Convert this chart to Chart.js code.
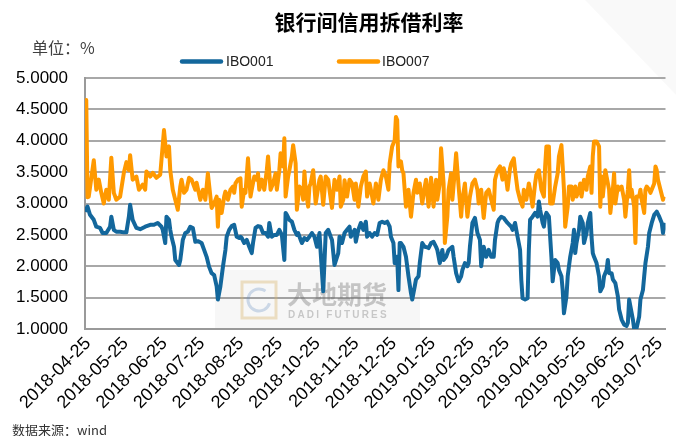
<!DOCTYPE html>
<html>
<head>
<meta charset="utf-8">
<script src="https://cdn.jsdelivr.net/npm/chart.js@4.4.0/dist/chart.umd.min.js"></script>
<style>
  html, body { margin: 0; padding: 0; background: #fff; }
  #contenedor { width: 676px; height: 436px; }
</style>
</head>
<body>
<div id="contenedor"><canvas id="idGrafica" width="676" height="436"></canvas></div>
<script>
// fecha base: los dias de cada serie se cuentan desde aqui
var fechaInicio = '2018-04-25';

var etiquetas = ['2018-04-25', '2018-05-25', '2018-06-25', '2018-07-25', '2018-08-25', '2018-09-25',
  '2018-10-25', '2018-11-25', '2018-12-25', '2019-01-25', '2019-02-25', '2019-03-25',
  '2019-04-25', '2019-05-25', '2019-06-25', '2019-07-25'];

var valoresY = [1.0, 1.5, 2.0, 2.5, 3.0, 3.5, 4.0, 4.5, 5.0];

// IBO001
var dias001 = [0, 2, 4, 7, 9, 12, 14, 17, 20, 21, 23, 25, 28, 31, 33, 35, 36, 38, 41, 44, 48, 52, 55, 58, 61, 62, 64, 65, 67, 68, 69, 71, 72, 75, 76, 78, 80, 82, 84, 86, 88, 90, 93, 95, 97, 99, 101, 103, 105, 106, 108, 110, 112, 113, 115, 117, 119, 121, 123, 124, 125, 127, 129, 131, 133, 134, 136, 138, 140, 142, 144, 146, 147, 149, 151, 153, 155, 157, 159, 160, 161, 163, 165, 167, 169, 170, 172, 173, 175, 177, 179, 181, 183, 185, 187, 188, 190, 192, 194, 196, 197, 199, 202, 203, 205, 207, 209, 211, 212, 215, 216, 218, 220, 222, 224, 225, 227, 229, 231, 233, 235, 237, 239, 241, 243, 244, 246, 247, 249, 250, 251, 252, 254, 256, 258, 260, 261, 263, 264, 266, 267, 269, 271, 273, 274, 276, 278, 280, 281, 283, 285, 286, 288, 290, 293, 294, 296, 298, 300, 301, 303, 305, 306, 307, 309, 311, 313, 315, 316, 318, 320, 322, 324, 326, 327, 329, 330, 332, 334, 335, 337, 340, 341, 343, 344, 345, 347, 348, 349, 351, 353, 354, 355, 357, 359, 361, 362, 363, 365, 366, 367, 368, 370, 371, 372, 373, 375, 377, 378, 380, 381, 382, 384, 385, 386, 387, 389, 390, 391, 392, 394, 395, 397, 398, 400, 401, 403, 404, 405, 406, 408, 410, 411, 413, 414, 416, 417, 418, 420, 421, 423, 425, 426, 428, 430, 432, 433, 434, 435, 437, 438, 440, 442, 443, 445, 446, 447, 449, 450, 452, 454, 456, 458, 460, 461, 463];
var ibo001 = [2.87, 2.95, 2.82, 2.74, 2.63, 2.61, 2.53, 2.53, 2.63, 2.79, 2.58, 2.55, 2.55, 2.54, 2.54, 2.79, 2.98, 2.74, 2.61, 2.59, 2.63, 2.66, 2.66, 2.69, 2.63, 2.58, 2.37, 2.79, 2.74, 2.58, 2.47, 2.31, 2.10, 2.02, 2.10, 2.42, 2.53, 2.55, 2.63, 2.61, 2.39, 2.40, 2.37, 2.26, 2.15, 1.99, 1.89, 1.86, 1.68, 1.47, 1.68, 1.99, 2.26, 2.47, 2.58, 2.64, 2.66, 2.47, 2.45, 2.47, 2.45, 2.37, 2.42, 2.31, 2.21, 2.37, 2.61, 2.64, 2.63, 2.53, 2.53, 2.47, 2.69, 2.47, 2.50, 2.50, 2.58, 2.50, 2.10, 2.85, 2.82, 2.74, 2.71, 2.58, 2.50, 2.53, 2.42, 2.37, 2.45, 2.42, 2.47, 2.53, 2.47, 2.31, 2.53, 2.21, 1.60, 2.53, 2.58, 2.47, 2.42, 2.02, 2.21, 2.47, 2.37, 2.53, 2.58, 2.63, 2.47, 2.58, 2.39, 2.58, 2.69, 2.58, 2.71, 2.47, 2.53, 2.47, 2.53, 2.50, 2.69, 2.71, 2.69, 2.71, 2.63, 2.47, 2.37, 2.05, 2.15, 1.62, 2.37, 2.37, 2.31, 2.15, 1.84, 1.57, 1.47, 1.68, 1.79, 1.84, 2.05, 2.37, 2.31, 2.30, 2.29, 2.37, 2.39, 2.31, 2.26, 2.05, 2.26, 2.10, 2.15, 2.26, 2.31, 2.15, 1.89, 1.76, 1.84, 1.94, 2.05, 2.00, 2.05, 2.31, 2.69, 2.77, 2.53, 2.42, 2.00, 2.31, 2.15, 2.26, 2.15, 2.15, 2.42, 2.69, 2.74, 2.79, 2.77, 2.74, 2.69, 2.63, 2.58, 2.69, 2.58, 2.47, 2.26, 1.78, 1.49, 1.47, 1.49, 2.26, 2.74, 2.79, 2.85, 2.79, 3.03, 2.90, 2.69, 2.63, 2.79, 2.85, 2.79, 2.47, 2.15, 1.76, 2.10, 2.05, 1.94, 1.84, 1.62, 1.25, 1.52, 1.84, 2.00, 2.15, 2.37, 2.58, 2.21, 2.37, 2.58, 2.79, 2.69, 2.37, 2.53, 2.69, 2.85, 2.47, 2.21, 2.15, 2.05, 1.84, 1.60, 1.68, 1.84, 1.94, 2.10, 1.89, 1.89, 1.79, 1.73, 1.52, 1.31, 1.15, 1.07, 1.05, 1.10, 1.47, 1.36, 1.15, 1.00, 1.02, 1.20, 1.47, 1.62, 1.84, 2.05, 2.31, 2.53, 2.69, 2.82, 2.87, 2.79, 2.69, 2.53, 2.69];

// IBO007
var dias007 = [0, 1, 2, 3, 7, 9, 11, 13, 15, 17, 19, 21, 23, 25, 28, 31, 33, 35, 36, 38, 41, 43, 46, 48, 49, 52, 54, 57, 60, 63, 65, 67, 68, 70, 72, 74, 76, 77, 79, 81, 83, 85, 88, 89, 92, 94, 96, 98, 100, 101, 103, 105, 106, 107, 109, 111, 112, 114, 116, 118, 119, 120, 122, 124, 125, 127, 128, 130, 132, 133, 135, 137, 138, 139, 141, 143, 145, 146, 148, 150, 152, 153, 155, 156, 158, 159, 160, 162, 163, 165, 166, 168, 169, 171, 173, 174, 175, 176, 178, 179, 180, 182, 184, 187, 188, 190, 192, 194, 195, 197, 199, 201, 203, 204, 206, 207, 209, 211, 213, 215, 216, 218, 220, 222, 224, 225, 227, 228, 230, 232, 234, 236, 238, 240, 242, 243, 245, 247, 248, 249, 250, 252, 253, 254, 256, 258, 260, 262, 264, 265, 267, 269, 271, 272, 274, 276, 278, 280, 281, 283, 284, 286, 287, 289, 290, 292, 293, 295, 296, 298, 300, 301, 303, 305, 307, 309, 311, 313, 314, 316, 318, 320, 322, 324, 326, 327, 329, 331, 333, 334, 336, 337, 339, 340, 342, 343, 345, 347, 349, 350, 352, 354, 355, 357, 359, 360, 362, 364, 366, 367, 368, 370, 371, 373, 375, 377, 378, 380, 381, 382, 383, 385, 386, 388, 389, 391, 392, 394, 395, 396, 398, 400, 401, 403, 404, 405, 406, 408, 410, 411, 412, 413, 415, 416, 418, 419, 421, 422, 423, 425, 426, 428, 430, 431, 433, 434, 435, 436, 438, 439, 440, 442, 443, 444, 446, 447, 448, 450, 451, 452, 454, 455, 456, 457, 459, 461, 462];
var ibo007 = [4.20, 4.65, 3.10, 3.11, 3.69, 3.22, 3.38, 3.17, 3.00, 3.22, 3.06, 3.73, 3.17, 3.06, 3.11, 3.49, 3.66, 3.53, 3.77, 3.38, 3.43, 3.22, 3.30, 3.22, 3.51, 3.43, 3.49, 3.41, 3.46, 4.17, 3.75, 3.91, 3.53, 3.22, 3.06, 2.90, 3.27, 3.38, 3.17, 3.22, 3.41, 3.38, 3.22, 3.33, 3.06, 3.22, 3.06, 3.48, 3.11, 2.93, 3.00, 3.11, 2.63, 3.06, 2.85, 3.11, 3.19, 3.06, 3.22, 3.27, 3.17, 3.32, 3.38, 3.40, 2.95, 3.22, 3.17, 3.72, 3.11, 3.22, 3.43, 3.38, 3.48, 3.22, 3.38, 3.22, 3.53, 3.75, 3.22, 3.32, 3.48, 3.22, 3.53, 3.80, 3.59, 4.04, 3.11, 3.43, 3.53, 3.75, 3.93, 3.64, 2.90, 3.27, 3.22, 3.06, 3.51, 3.22, 2.95, 3.27, 3.32, 3.53, 3.00, 3.38, 3.43, 2.98, 3.43, 3.38, 3.22, 2.93, 3.38, 3.22, 3.43, 2.95, 3.06, 3.37, 3.11, 3.38, 3.32, 3.06, 3.32, 2.95, 3.27, 3.43, 3.51, 3.11, 3.32, 3.22, 3.00, 3.32, 3.06, 3.38, 3.53, 3.43, 3.22, 3.64, 3.91, 4.01, 4.38, 4.33, 3.59, 3.67, 3.53, 3.48, 2.95, 3.22, 2.79, 3.17, 3.38, 3.17, 3.32, 3.00, 3.27, 3.38, 2.95, 3.41, 2.95, 3.38, 3.06, 3.32, 3.88, 3.32, 2.37, 2.79, 3.22, 3.48, 3.06, 3.53, 3.80, 3.27, 2.79, 3.06, 3.32, 2.79, 3.11, 3.32, 3.38, 3.22, 3.00, 3.22, 2.77, 3.17, 3.22, 3.06, 2.90, 3.38, 3.53, 3.59, 3.38, 3.56, 3.38, 3.22, 3.56, 3.64, 3.72, 3.53, 3.22, 3.06, 2.95, 3.22, 3.06, 3.32, 3.22, 2.95, 3.32, 3.46, 3.53, 3.22, 3.11, 3.59, 3.91, 3.91, 3.00, 3.00, 3.27, 3.48, 3.75, 3.93, 3.59, 3.22, 2.63, 2.95, 3.27, 3.27, 3.06, 3.27, 3.11, 3.22, 3.32, 3.11, 3.38, 3.22, 3.43, 3.59, 3.17, 3.75, 3.99, 3.99, 3.91, 2.95, 3.43, 3.11, 3.53, 3.43, 3.22, 2.85, 3.22, 3.48, 3.00, 3.27, 3.22, 3.27, 3.06, 2.79, 3.22, 3.53, 3.11, 3.22, 2.95, 2.37, 3.11, 3.11, 3.22, 3.06, 2.85, 3.22, 3.27, 3.22, 3.17, 3.22, 3.32, 3.59, 3.53, 3.38, 3.22, 3.06, 3.11];

var colorAzul = '#13679c';
var colorNaranja = '#ff9900';
var fuenteLatina = '"Liberation Sans", Arial, sans-serif';
var fuenteCJK = '"Noto Sans CJK SC", "Noto Sans", sans-serif';

function diasDesde(fecha) {
    return Math.round((Date.parse(fecha) - Date.parse(fechaInicio)) / 86400000);
}
var posEtiquetas = etiquetas.map(diasDesde);

function puntos(dias, valores) {
    return dias.map(function (d, i) { return { x: d, y: valores[i] }; });
}

// textos, leyenda y marca de agua dibujados a mano
var textos = {
    id: 'textos',
    beforeDraw: function (chart) {
        var ctx = chart.ctx;
        ctx.save();
        ctx.fillStyle = 'rgba(0,0,0,0.025)';
        ctx.beginPath();
        ctx.moveTo(585, 0); ctx.lineTo(676, 0); ctx.lineTo(676, 95);
        ctx.closePath();
        ctx.fill();
        ctx.restore();
    },
    beforeDatasetsDraw: function (chart) {
        var ctx = chart.ctx;
        ctx.save();
        ctx.fillStyle = 'rgba(0,0,0,0.03)';
        ctx.fillRect(215, 270, 205, 58);
        ctx.lineWidth = 3;
        ctx.strokeStyle = 'rgba(215,180,110,0.4)';
        ctx.strokeRect(242, 282, 34, 36);
        ctx.strokeStyle = 'rgba(100,140,190,0.3)';
        ctx.beginPath();
        ctx.arc(259, 300, 11, 0.3, Math.PI * 1.7);
        ctx.stroke();
        ctx.fillStyle = 'rgba(110,110,110,0.38)';
        ctx.font = 'bold 25px ' + fuenteCJK;
        ctx.textBaseline = 'middle';
        ctx.fillText('大地期货', 287, 294);
        ctx.font = 'bold 10px ' + fuenteLatina;
        ctx.fillStyle = 'rgba(110,110,110,0.35)';
        var letras = 'DADI FUTURES'.split('');
        var x = 288;
        letras.forEach(function (c) {
            ctx.fillText(c, x, 315);
            x += ctx.measureText(c).width + 2.2;
        });
        ctx.restore();
    },
    afterDraw: function (chart) {
        var ctx = chart.ctx;
        ctx.save();
        ctx.textBaseline = 'middle';
        ctx.fillStyle = '#000';
        ctx.textAlign = 'center';
        ctx.font = 'bold 21px ' + fuenteCJK;
        ctx.fillText('银行间信用拆借利率', 369, 22);

        ctx.textAlign = 'left';
        ctx.fillStyle = '#404040';
        ctx.font = '16px ' + fuenteCJK;
        ctx.fillText('单位：%', 32, 48);

        // leyenda
        ctx.lineWidth = 4.5;
        ctx.lineCap = 'round';
        ctx.strokeStyle = colorAzul;
        ctx.beginPath(); ctx.moveTo(182, 61.5); ctx.lineTo(221, 61.5); ctx.stroke();
        ctx.strokeStyle = colorNaranja;
        ctx.beginPath(); ctx.moveTo(339, 61.5); ctx.lineTo(378, 61.5); ctx.stroke();
        ctx.fillStyle = '#222';
        ctx.font = '14px ' + fuenteLatina;
        ctx.fillText('IBO001', 226, 62);
        ctx.fillText('IBO007', 382, 62);

        ctx.fillStyle = '#333';
        ctx.font = '13px ' + fuenteCJK;
        ctx.fillText('数据来源：wind', 12, 430);
        ctx.restore();
    }
};

var ctx = document.getElementById('idGrafica').getContext('2d');
var myChart = new Chart(ctx, {
    type: 'line',
    data: {
        datasets: [
            {
                label: 'IBO001',
                data: puntos(dias001, ibo001),
                borderColor: colorAzul,
                borderWidth: 4,
                pointRadius: 0,
                tension: 0,
                borderJoinStyle: 'round',
                order: 1
            },
            {
                label: 'IBO007',
                data: puntos(dias007, ibo007),
                borderColor: colorNaranja,
                borderWidth: 4,
                pointRadius: 0,
                tension: 0,
                borderJoinStyle: 'round',
                order: 0
            }
        ]
    },
    options: {
        responsive: false,
        animation: false,
        devicePixelRatio: 1,
        layout: { padding: { top: 78, left: 0, right: 0, bottom: 0 } },
        plugins: {
            legend: { display: false },
            title: { display: false },
            tooltip: { enabled: false }
        },
        scales: {
            x: {
                type: 'linear',
                min: 0,
                max: 463,
                afterBuildTicks: function (scale) {
                    scale.ticks = posEtiquetas.map(function (v) { return { value: v }; });
                },
                afterFit: function (scale) { scale.height = 107; },
                ticks: {
                    autoSkip: false,
                    minRotation: 45,
                    maxRotation: 45,
                    padding: 4,
                    labelOffset: 3,
                    color: '#000',
                    font: { size: 18, family: fuenteLatina },
                    callback: function (v) { return etiquetas[posEtiquetas.indexOf(v)]; }
                },
                grid: { display: false, drawTicks: false },
                border: { display: true, color: '#9a9a9a', width: 2 }
            },
            y: {
                min: 1,
                max: 5,
                afterBuildTicks: function (scale) {
                    scale.ticks = valoresY.map(function (v) { return { value: v }; });
                },
                afterFit: function (scale) { scale.width = 85; },
                ticks: {
                    padding: 17,
                    color: '#000',
                    font: { size: 17, family: fuenteLatina },
                    callback: function (v) { return v.toFixed(4); }
                },
                grid: { color: '#a8a8a8', lineWidth: 2, drawTicks: false },
                border: { display: true, color: '#9a9a9a', width: 2 }
            }
        }
    },
    plugins: [textos]
});
</script>
</body>
</html>
